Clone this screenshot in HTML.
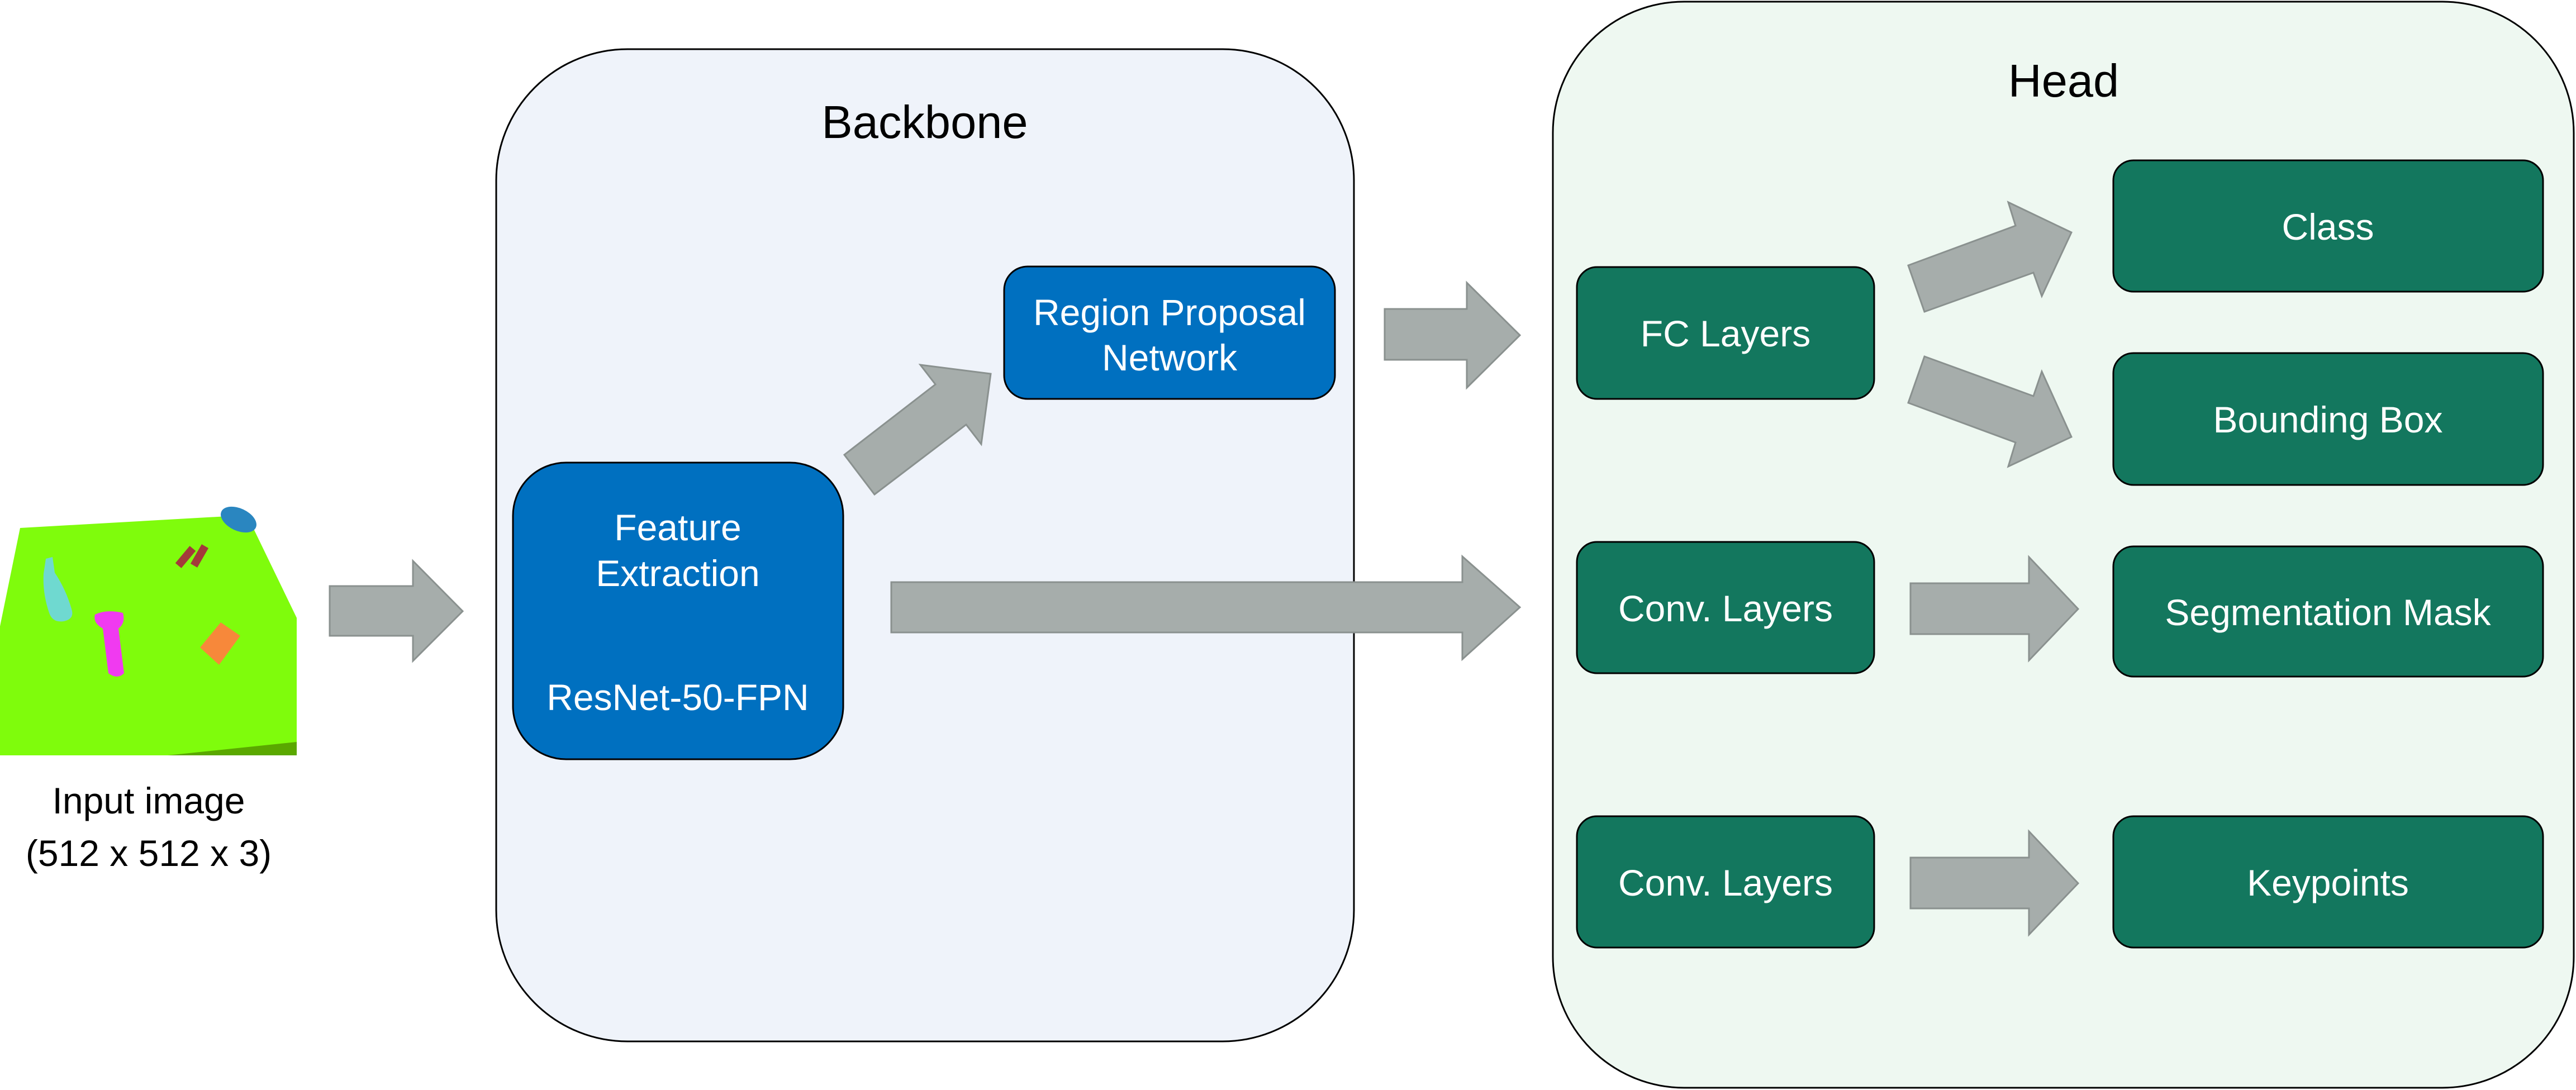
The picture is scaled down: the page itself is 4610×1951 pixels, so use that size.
<!DOCTYPE html>
<html><head><meta charset="utf-8"><style>
html,body{margin:0;padding:0;background:#fff}
svg{display:block}
text{font-family:"Liberation Sans",Arial,sans-serif}
</style></head><body>
<svg width="4610" height="1951" viewBox="0 0 4610 1951" xmlns="http://www.w3.org/2000/svg">
<rect x="888" y="88" width="1535" height="1776" rx="235" ry="235" fill="#eff3fa" stroke="#000" stroke-width="3"/>
<rect x="2779" y="3" width="1827" height="1944" rx="235" ry="235" fill="#eef8f1" stroke="#000" stroke-width="3"/>
<text x="1655" y="247" font-size="83" text-anchor="middle" fill="#000">Backbone</text>
<text x="3693" y="173" font-size="83" text-anchor="middle" fill="#000">Head</text>

<rect x="0" y="922" width="531" height="430" fill="#fff"/>
<polygon points="36,945 442,922 531,1106 531,1352 0,1352 0,1121" fill="#7ffc0c"/>
<polygon points="300,1352 531,1328 531,1352" fill="#5aa800"/>
<ellipse cx="427" cy="930" rx="34" ry="20" fill="#2a86c0" transform="rotate(25 427 930)"/>
<rect x="325" y="977" width="14" height="40" fill="#a33a3a" transform="rotate(40 332 997)"/>
<rect x="350" y="975" width="14" height="40" fill="#a33a3a" transform="rotate(30 357 995)"/>
<path d="M82,1000 l12,-3 l4,28 q20,30 30,65 q6,18 -14,22 q-20,3 -26,-15 q-12,-35 -10,-70 z" fill="#6fd9d0"/>
<path d="M170,1100 q20,-10 50,-3 q5,18 -8,28 l10,80 q-12,12 -28,0 l-10,-80 q-18,-10 -14,-25 z" fill="#f03af0"/>
<polygon points="358,1159 395,1114 430,1138 392,1190" fill="#f7883a"/>

<text x="266" y="1456" font-size="66" text-anchor="middle" fill="#000">Input image</text>
<text x="266" y="1550" font-size="66" text-anchor="middle" fill="#000">(512 x 512 x 3)</text>

<g fill="#a6adab" stroke="#8a918f" stroke-width="3">
<polygon points="590,1049 739,1049 739,1004 828,1094 739,1183 739,1138 590,1138"/>
<polygon points="1511,814 1674,688 1647,653 1773,669 1756,795 1729,760 1565,885"/>
<polygon points="1595,1042 2617,1042 2617,996 2720,1087 2617,1180 2617,1132 1595,1132"/>
<polygon points="2478,553 2625,553 2625,506 2720,600 2625,694 2625,644 2478,644"/>
<polygon points="3415,475 3607,404 3594,362 3707,416 3654,530 3639,488 3444,558"/>
<polygon points="3444,638 3639,709 3654,665 3707,782 3594,835 3607,792 3415,721"/>
<polygon points="3419,1044 3631,1044 3631,997 3719,1090 3631,1182 3631,1135 3419,1135"/>
<polygon points="3419,1535 3631,1535 3631,1488 3719,1581 3631,1673 3631,1626 3419,1626"/>
</g>

<g fill="#0070c0" stroke="#000" stroke-width="3">
<rect x="918" y="828" width="591" height="531" rx="95" ry="95"/>
<rect x="1797" y="477" width="592" height="237" rx="42" ry="42"/>
</g>
<g fill="#fff" font-size="66" text-anchor="middle">
<text x="1213" y="967">Feature</text>
<text x="1213" y="1049">Extraction</text>
<text x="1213" y="1271">ResNet-50-FPN</text>
<text x="2093" y="582">Region Proposal</text>
<text x="2093" y="663">Network</text>
</g>

<g fill="#13775e" stroke="#000" stroke-width="3">
<rect x="2822" y="478" width="532" height="236" rx="36" ry="36"/>
<rect x="2822" y="970" width="532" height="235" rx="36" ry="36"/>
<rect x="2822" y="1461" width="532" height="235" rx="36" ry="36"/>
<rect x="3782" y="287" width="769" height="235" rx="36" ry="36"/>
<rect x="3782" y="632" width="769" height="236" rx="36" ry="36"/>
<rect x="3782" y="978" width="769" height="233" rx="36" ry="36"/>
<rect x="3782" y="1461" width="769" height="235" rx="36" ry="36"/>
</g>
<g fill="#fff" font-size="66" text-anchor="middle">
<text x="3088" y="620">FC Layers</text>
<text x="3088" y="1112">Conv. Layers</text>
<text x="3088" y="1603">Conv. Layers</text>
<text x="4166" y="429">Class</text>
<text x="4166" y="774">Bounding Box</text>
<text x="4166" y="1119">Segmentation Mask</text>
<text x="4166" y="1603">Keypoints</text>
</g>
</svg>
</body></html>
